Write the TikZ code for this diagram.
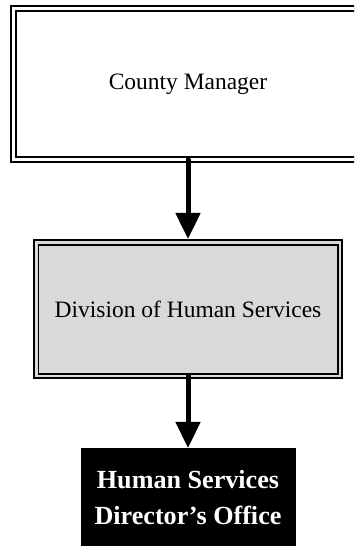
\documentclass[tikz,border=0pt]{standalone}
\usepackage{fontspec}
\setmainfont{Liberation Serif}
\usetikzlibrary{positioning}
\usetikzlibrary{arrows.meta}
\definecolor{boxgray}{gray}{0.85}

\begin{document}
\begin{tikzpicture}[x=0.75pt,y=-0.75pt,on grid,outer sep=0pt,
   framed/.style={draw,double,line width=1.5pt,double distance=2.55pt},
   flow/.style={-{Triangle[width=18pt,length=19.5pt]},line width=3.75pt,line cap=round}]
   \clip (0,0) rectangle (354,546);
   \node[framed,fill=white,minimum width=261.9pt,minimum height=113.4pt,
      font=\fontsize{17.6}{21}\selectfont] (cm) at (188,84.1) {County Manager};
   \node[framed,fill=boxgray,double=boxgray,line width=1.35pt,double distance=2.1pt,
      minimum width=227.85pt,minimum height=100.2pt,
      font=\fontsize{17.6}{21}\selectfont] (dhs) [below=168.8pt of cm] {Division of Human Services};
   \node[fill=black,text=white,align=center,minimum width=161.25pt,minimum height=74.25pt,
      font=\bfseries\fontsize{19.6}{26.8}\selectfont] (dir) [below=141.2pt of dhs] {Human Services\\Director’s Office};
   \path[flow]
   (cm) edge [shorten >=2.55pt] (dhs)
   (dhs) edge [] (dir);
\end{tikzpicture}
\end{document}
